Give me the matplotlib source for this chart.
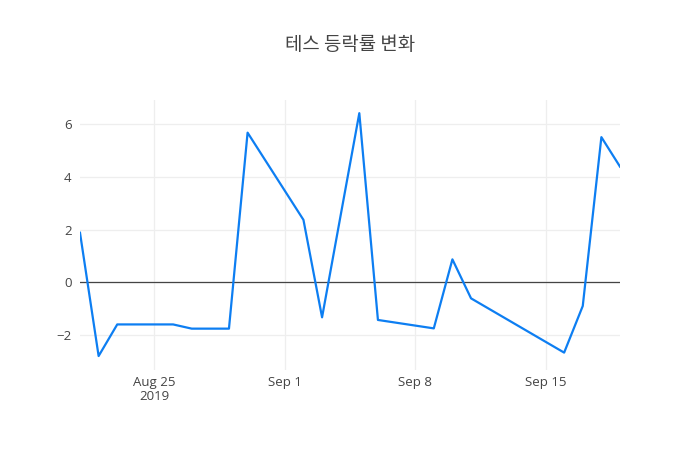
import matplotlib
matplotlib.use("Agg")
import matplotlib.pyplot as plt
import pandas as pd

plt.rcParams['font.family'] = ['Open Sans', 'Noto Sans CJK KR', 'DejaVu Sans']

# 날짜 / 등락률
dates = ["2019-08-21", "2019-08-22", "2019-08-23", "2019-08-26", "2019-08-27",
         "2019-08-28", "2019-08-29", "2019-08-30", "2019-09-02", "2019-09-03",
         "2019-09-04", "2019-09-05", "2019-09-06", "2019-09-09", "2019-09-10",
         "2019-09-11", "2019-09-16", "2019-09-17", "2019-09-18", "2019-09-19"]
rates = [1.88, -2.80, -1.60, -1.60, -1.76,
         -1.76, -1.76, 5.68, 2.37, -1.33,
         2.55, 6.42, -1.43, -1.75, 0.87,
         -0.61, -2.67, -0.90, 5.51, 4.39]
tick_dates = ["2019-08-25", "2019-09-01", "2019-09-08", "2019-09-15"]
tick_labels = ["Aug 25\n2019", "Sep 1", "Sep 8", "Sep 15"]

x = pd.to_datetime(dates)

fig = plt.figure(figsize=(7, 4.5), dpi=100)
ax = fig.add_axes([80 / 700, 80 / 450, 540 / 700, 270 / 450])

ax.axhline(0, color="#444444", lw=0.9, zorder=2)
ax.plot(x, rates, color="#0d7ef2", lw=1.6, zorder=3)

ax.set_xlim(x[0], x[-1])
ax.set_ylim(-3.33, 6.92)
ax.set_xticks(pd.to_datetime(tick_dates))
ax.set_xticklabels(tick_labels, linespacing=1.1)
ax.set_yticks([-2, 0, 2, 4, 6])
ax.set_yticklabels(["\u22122", "0", "2", "4", "6"])

ax.grid(True, color="#eeeeee", lw=0.9, zorder=0)
for s in ax.spines.values():
    s.set_visible(False)
ax.tick_params(length=0, labelsize=9.5, colors="#444444", pad=4)
ax.tick_params(axis="y", pad=6)

fig.suptitle("테스 등락률 변화", y=0.925, fontsize=13.6, color="#444444",
             family=['Noto Sans CJK KR', 'DejaVu Sans'])

fig.savefig("out.png", dpi=100)
